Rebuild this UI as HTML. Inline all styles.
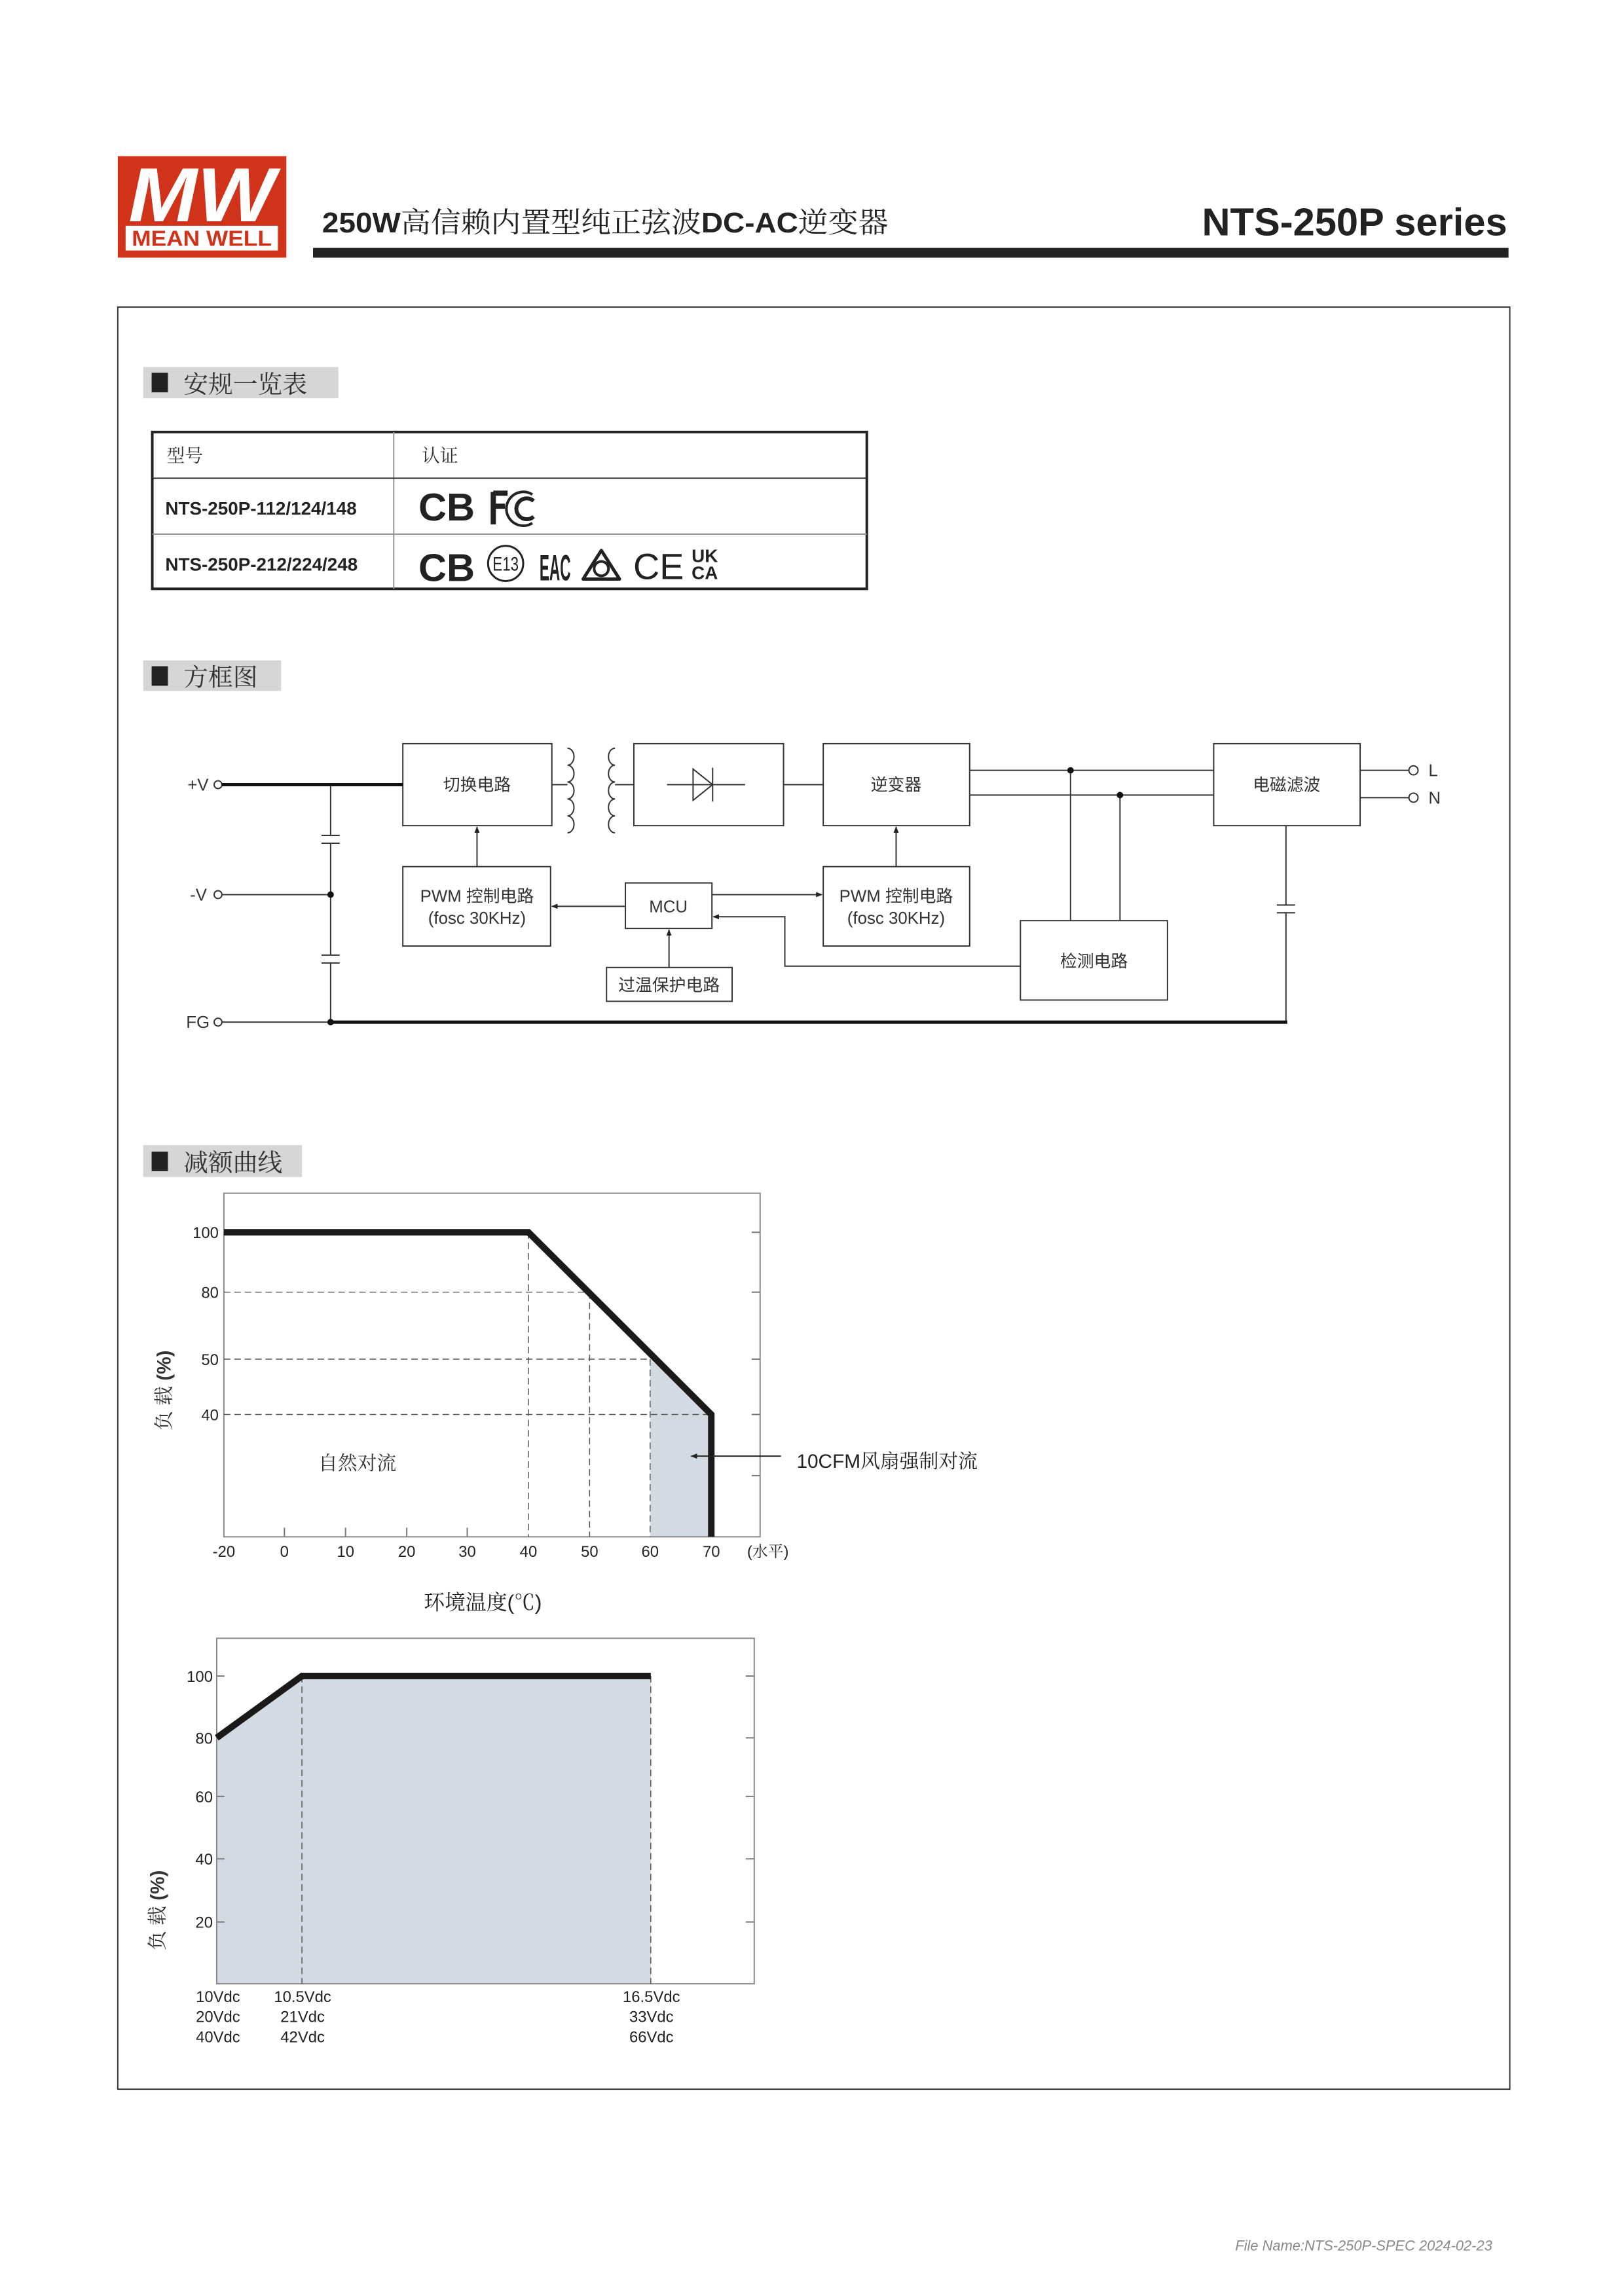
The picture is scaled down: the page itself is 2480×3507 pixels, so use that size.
<!DOCTYPE html>
<html><head><meta charset="utf-8"><style>
html,body{margin:0;padding:0;background:#fff}
svg{display:block}
text{font-family:"Liberation Sans Narrow","Liberation Sans","Noto Sans CJK SC",sans-serif}
.cj{font-family:"Liberation Sans Narrow","Liberation Sans","Noto Serif CJK SC","Noto Sans CJK SC",serif}
</style></head><body>
<svg width="2480" height="3507" viewBox="0 0 2480 3507" xmlns="http://www.w3.org/2000/svg">
<defs>
<marker id="ar" markerWidth="10" markerHeight="8" refX="9" refY="4" orient="auto" markerUnits="userSpaceOnUse"><path d="M0,0 L10,4 L0,8 z" fill="#222"/></marker>
</defs>
<g transform="scale(0.9938)">
<!-- Logo -->
<rect x="181" y="240" width="259" height="156" fill="#d0321a"/>
<text x="310" y="340" font-size="118" font-style="italic" font-weight="bold" fill="#fff" text-anchor="middle" font-family="Liberation Sans" textLength="225" lengthAdjust="spacingAndGlyphs">MW</text>
<rect x="193" y="347" width="234" height="38" fill="#fff"/>
<text x="310" y="378" font-size="34" font-weight="bold" fill="#d0321a" text-anchor="middle" font-family="Liberation Sans" textLength="215" lengthAdjust="spacingAndGlyphs">MEAN WELL</text>
<!-- header -->
<text x="495" y="357" font-size="44" font-weight="bold" fill="#222" class="cj" textLength="870" lengthAdjust="spacingAndGlyphs">250W<tspan font-weight="normal">高信赖内置型纯正弦波</tspan>DC-AC<tspan font-weight="normal">逆变器</tspan></text>
<text x="2316" y="362" font-size="60" font-weight="bold" fill="#222" text-anchor="end">NTS-250P series</text>
<rect x="481" y="381" width="1837" height="15" fill="#222"/>
<!-- frame -->
<rect x="181" y="472" width="2139" height="2739" fill="none" stroke="#333" stroke-width="2"/>
<!-- section 1 -->
<rect x="220" y="564" width="300" height="48" fill="#d6d6d6"/>
<rect x="233" y="573" width="25" height="30" fill="#222"/>
<text x="282" y="604" font-size="38" fill="#333" class="cj">安规一览表</text>
<!-- table -->
<rect x="234" y="664" width="1098" height="241" fill="none" stroke="#222" stroke-width="4"/>
<line x1="605" y1="664" x2="605" y2="905" stroke="#999" stroke-width="2"/>
<line x1="234" y1="735" x2="1332" y2="735" stroke="#222" stroke-width="2"/>
<line x1="234" y1="821" x2="1332" y2="821" stroke="#888" stroke-width="2"/>
<text x="256" y="710" font-size="28" fill="#333" class="cj">型号</text>
<text x="648" y="710" font-size="28" fill="#333" class="cj">认证</text>
<text x="254" y="791" font-size="28" font-weight="bold" fill="#222">NTS-250P-112/124/148</text>
<text x="254" y="877" font-size="28" font-weight="bold" fill="#222">NTS-250P-212/224/248</text>
<text x="643" y="800" font-size="60" font-weight="bold" fill="#222" font-family="Liberation Sans">CB</text>
<path d="M758,756 L758,806 M758,758 L780,758 M758,778 L776,778" fill="none" stroke="#222" stroke-width="8"/>
<path d="M820,770 a16,16 0 1 0 0,24" fill="none" stroke="#222" stroke-width="6"/>
<path d="M818,760 a26,26 0 1 0 0,44" fill="none" stroke="#222" stroke-width="4"/>
<text x="643" y="893" font-size="60" font-weight="bold" fill="#222" font-family="Liberation Sans">CB</text>
<circle cx="777" cy="866" r="27" fill="none" stroke="#222" stroke-width="3"/>
<text x="777" y="877" font-size="30" fill="#222" text-anchor="middle" textLength="40" lengthAdjust="spacingAndGlyphs">E13</text>
<text x="853" y="892" font-size="56" font-weight="bold" fill="#222" text-anchor="middle" textLength="48" lengthAdjust="spacingAndGlyphs">EAC</text>
<path d="M924,846 L952,890 L896,890 Z" fill="none" stroke="#222" stroke-width="5" stroke-linejoin="round"/>
<circle cx="924" cy="874" r="11" fill="none" stroke="#222" stroke-width="4"/>
<text x="1012" y="890" font-size="56" fill="#222" text-anchor="middle" font-family="Liberation Sans">CE</text>
<text x="1083" y="864" font-size="28" font-weight="bold" fill="#222" text-anchor="middle" font-family="Liberation Sans">UK</text>
<text x="1083" y="890" font-size="28" font-weight="bold" fill="#222" text-anchor="middle" font-family="Liberation Sans">CA</text>
<!-- section 2 -->
<rect x="220" y="1015" width="212" height="47" fill="#d6d6d6"/>
<rect x="233" y="1024" width="25" height="30" fill="#222"/>
<text x="282" y="1054" font-size="38" fill="#333" class="cj">方框图</text>
<!-- block diagram -->
<g stroke="#333" stroke-width="2" fill="none">
<rect x="619" y="1143" width="229" height="126"/>
<rect x="974" y="1143" width="230" height="126"/>
<rect x="1265" y="1143" width="225" height="126"/>
<rect x="1865" y="1143" width="225" height="126"/>
<rect x="619" y="1332" width="227" height="122"/>
<rect x="961" y="1357" width="133" height="70"/>
<rect x="1265" y="1332" width="225" height="122"/>
<rect x="1568" y="1415" width="226" height="122"/>
<rect x="932" y="1487" width="193" height="52"/>
<path d="M872,1150 a10,13 0 0 1 0,26 a10,13 0 0 1 0,26 a10,13 0 0 1 0,26 a10,13 0 0 1 0,26 a10,13 0 0 1 0,26"/>
<path d="M945,1150 a10,13 0 0 0 0,26 a10,13 0 0 0 0,26 a10,13 0 0 0 0,26 a10,13 0 0 0 0,26 a10,13 0 0 0 0,26"/>
<line x1="848" y1="1206" x2="872" y2="1206"/>
<line x1="945" y1="1206" x2="974" y2="1206"/>
<line x1="1204" y1="1206" x2="1265" y2="1206"/>
<line x1="1025" y1="1206" x2="1145" y2="1206"/>
<path d="M1065,1182 L1095,1206 L1065,1230 Z"/>
<line x1="1095" y1="1180" x2="1095" y2="1232"/>
<line x1="1490" y1="1184" x2="1865" y2="1184"/>
<line x1="1490" y1="1222" x2="1865" y2="1222"/>
<line x1="1645" y1="1184" x2="1645" y2="1415"/>
<line x1="1721" y1="1222" x2="1721" y2="1415"/>
<line x1="2090" y1="1184" x2="2165" y2="1184"/>
<line x1="2090" y1="1226" x2="2165" y2="1226"/>
<circle cx="2172" cy="1184" r="7"/>
<circle cx="2172" cy="1226" r="7"/>
<circle cx="335" cy="1206" r="6"/>
<circle cx="335" cy="1375" r="6"/>
<circle cx="335" cy="1571" r="6"/>
<line x1="341" y1="1375" x2="508" y2="1375"/>
<line x1="341" y1="1571" x2="508" y2="1571"/>
<line x1="508" y1="1206" x2="508" y2="1284"/>
<line x1="508" y1="1296" x2="508" y2="1468"/>
<line x1="508" y1="1480" x2="508" y2="1571"/>
<line x1="494" y1="1284" x2="522" y2="1284"/><line x1="494" y1="1296" x2="522" y2="1296"/>
<line x1="494" y1="1468" x2="522" y2="1468"/><line x1="494" y1="1480" x2="522" y2="1480"/>
<line x1="1976" y1="1269" x2="1976" y2="1391"/>
<line x1="1976" y1="1403" x2="1976" y2="1571"/>
<line x1="1962" y1="1391" x2="1990" y2="1391"/><line x1="1962" y1="1403" x2="1990" y2="1403"/>
<line x1="733" y1="1332" x2="733" y2="1271" marker-end="url(#ar)"/>
<line x1="1377" y1="1332" x2="1377" y2="1271" marker-end="url(#ar)"/>
<line x1="961" y1="1393" x2="848" y2="1393" marker-end="url(#ar)"/>
<line x1="1094" y1="1375" x2="1263" y2="1375" marker-end="url(#ar)"/>
<polyline points="1568,1485 1206,1485 1206,1409 1096,1409" marker-end="url(#ar)"/>
<line x1="1028" y1="1487" x2="1028" y2="1429" marker-end="url(#ar)"/>
</g>
<line x1="341" y1="1206" x2="619" y2="1206" stroke="#111" stroke-width="5"/>
<line x1="508" y1="1571" x2="1978" y2="1571" stroke="#111" stroke-width="5"/>
<circle cx="1645" cy="1184" r="5" fill="#111"/>
<circle cx="1721" cy="1222" r="5" fill="#111"/>
<circle cx="508" cy="1375" r="5" fill="#111"/>
<circle cx="508" cy="1571" r="5" fill="#111"/>
<g font-size="26" fill="#333" class="cj">
<text x="288" y="1215">+V</text>
<text x="292" y="1384">-V</text>
<text x="286" y="1580">FG</text>
<text x="2195" y="1193">L</text>
<text x="2195" y="1235">N</text>
<text x="733" y="1215" text-anchor="middle">切换电路</text>
<text x="1377" y="1215" text-anchor="middle">逆变器</text>
<text x="1977" y="1215" text-anchor="middle">电磁滤波</text>
<text x="733" y="1386" text-anchor="middle">PWM 控制电路</text>
<text x="733" y="1420" text-anchor="middle">(fosc 30KHz)</text>
<text x="1377" y="1386" text-anchor="middle">PWM 控制电路</text>
<text x="1377" y="1420" text-anchor="middle">(fosc 30KHz)</text>
<text x="1027" y="1402" text-anchor="middle">MCU</text>
<text x="1681" y="1486" text-anchor="middle">检测电路</text>
<text x="1028" y="1523" text-anchor="middle">过温保护电路</text>
</g>
<!-- section 3 -->
<rect x="220" y="1760" width="244" height="49" fill="#d6d6d6"/>
<rect x="233" y="1770" width="25" height="30" fill="#222"/>
<text x="282" y="1800" font-size="38" fill="#333" class="cj">减额曲线</text>
<!-- chart 1 -->
<polygon points="999,2089 1093,2174 1093,2362 999,2362" fill="#d3dae1"/>
<rect x="344" y="1834" width="824" height="528" fill="none" stroke="#888" stroke-width="2"/>
<g stroke="#555" stroke-width="1.5" stroke-dasharray="10,6" fill="none">
<line x1="812" y1="1894" x2="812" y2="2362"/>
<line x1="906" y1="1986" x2="906" y2="2362"/>
<line x1="999" y1="2089" x2="999" y2="2362"/>
<line x1="344" y1="1986" x2="906" y2="1986"/>
<line x1="344" y1="2089" x2="999" y2="2089"/>
<line x1="344" y1="2174" x2="1093" y2="2174"/>
</g>
<g stroke="#777" stroke-width="2">
<line x1="1155" y1="1894" x2="1168" y2="1894"/><line x1="1155" y1="1986" x2="1168" y2="1986"/>
<line x1="1155" y1="2089" x2="1168" y2="2089"/><line x1="1155" y1="2174" x2="1168" y2="2174"/>
<line x1="1155" y1="2268" x2="1168" y2="2268"/>
<line x1="437" y1="2348" x2="437" y2="2362"/><line x1="531" y1="2348" x2="531" y2="2362"/>
<line x1="625" y1="2348" x2="625" y2="2362"/><line x1="718" y1="2348" x2="718" y2="2362"/>
</g>
<polyline points="344,1894 812,1894 1093,2174 1093,2362" fill="none" stroke="#1a1a1a" stroke-width="10" stroke-linejoin="miter"/>
<line x1="1200" y1="2238" x2="1062" y2="2238" stroke="#222" stroke-width="2" marker-end="url(#ar)"/>
<g font-size="24" fill="#222">
<text x="336" y="1903" text-anchor="end">100</text>
<text x="336" y="1995" text-anchor="end">80</text>
<text x="336" y="2098" text-anchor="end">50</text>
<text x="336" y="2183" text-anchor="end">40</text>
<text x="344" y="2393" text-anchor="middle">-20</text>
<text x="437" y="2393" text-anchor="middle">0</text>
<text x="531" y="2393" text-anchor="middle">10</text>
<text x="625" y="2393" text-anchor="middle">20</text>
<text x="718" y="2393" text-anchor="middle">30</text>
<text x="812" y="2393" text-anchor="middle">40</text>
<text x="906" y="2393" text-anchor="middle">50</text>
<text x="999" y="2393" text-anchor="middle">60</text>
<text x="1093" y="2393" text-anchor="middle">70</text>
<text x="1180" y="2393" text-anchor="middle" class="cj">(水平)</text>
</g>
<text x="549" y="2259" font-size="30" fill="#333" text-anchor="middle" class="cj">自然对流</text>
<text x="1224" y="2256" font-size="30" fill="#222" class="cj">10CFM风扇强制对流</text>
<text x="742" y="2474" font-size="32" fill="#222" text-anchor="middle" class="cj">环境温度(℃)</text>
<text transform="translate(262,2137) rotate(-90)" font-size="30" fill="#333" text-anchor="middle" class="cj">负 载 <tspan font-weight="bold">(%)</tspan></text>
<!-- chart 2 -->
<polygon points="333,2671 464,2576 1000,2576 1000,3049 333,3049" fill="#d3dae1"/>
<rect x="333" y="2518" width="826" height="531" fill="none" stroke="#888" stroke-width="2"/>
<g stroke="#555" stroke-width="1.5" stroke-dasharray="10,6">
<line x1="464" y1="2576" x2="464" y2="3049"/>
<line x1="1000" y1="2576" x2="1000" y2="3049"/>
</g>
<g stroke="#777" stroke-width="2">
<line x1="1146" y1="2576" x2="1159" y2="2576"/><line x1="1146" y1="2671" x2="1159" y2="2671"/>
<line x1="1146" y1="2761" x2="1159" y2="2761"/><line x1="1146" y1="2857" x2="1159" y2="2857"/>
<line x1="1146" y1="2954" x2="1159" y2="2954"/>
<line x1="333" y1="2576" x2="345" y2="2576"/><line x1="333" y1="2761" x2="345" y2="2761"/>
<line x1="333" y1="2857" x2="345" y2="2857"/><line x1="333" y1="2954" x2="345" y2="2954"/>
</g>
<polyline points="333,2671 464,2576 1000,2576" fill="none" stroke="#1a1a1a" stroke-width="10"/>
<g font-size="24" fill="#222">
<text x="327" y="2585" text-anchor="end">100</text>
<text x="327" y="2680" text-anchor="end">80</text>
<text x="327" y="2770" text-anchor="end">60</text>
<text x="327" y="2866" text-anchor="end">40</text>
<text x="327" y="2963" text-anchor="end">20</text>
<text x="335" y="3077" text-anchor="middle">10Vdc</text>
<text x="335" y="3108" text-anchor="middle">20Vdc</text>
<text x="335" y="3139" text-anchor="middle">40Vdc</text>
<text x="465" y="3077" text-anchor="middle">10.5Vdc</text>
<text x="465" y="3108" text-anchor="middle">21Vdc</text>
<text x="465" y="3139" text-anchor="middle">42Vdc</text>
<text x="1001" y="3077" text-anchor="middle">16.5Vdc</text>
<text x="1001" y="3108" text-anchor="middle">33Vdc</text>
<text x="1001" y="3139" text-anchor="middle">66Vdc</text>
</g>
<text transform="translate(252,2936) rotate(-90)" font-size="30" fill="#333" text-anchor="middle" class="cj">负 载 <tspan font-weight="bold">(%)</tspan></text>
<!-- footer -->
<text x="2293" y="3459" font-size="22" font-style="italic" fill="#888" text-anchor="end">File Name:NTS-250P-SPEC   2024-02-23</text>
</g>
</svg>
</body></html>
